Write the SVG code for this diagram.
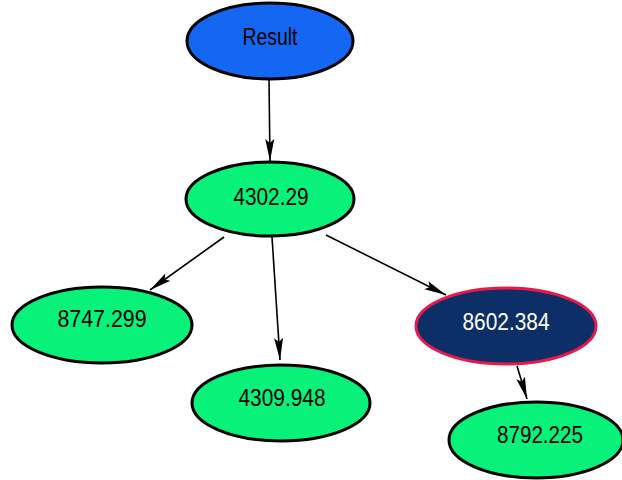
<svg xmlns="http://www.w3.org/2000/svg" width="622" height="480" viewBox="0 0 622 480">
  <style>
    .node ellipse { stroke: #000; stroke-width: 3; }
    .leaf { fill: #08f27a; }
    .root { fill: #1467f2; }
    .sel { fill: #0b2f66; stroke: #e8184a !important; }
    .label { font-family: "Liberation Sans", Arial, sans-serif; font-size: 23px; text-anchor: middle; fill: #000; }
    .label.inv { fill: #fff; }
    .edge { stroke: #000; stroke-width: 1.6; fill: none; marker-end: url(#arrow); }
  </style>
  <defs>
    <marker id="arrow" markerUnits="userSpaceOnUse" markerWidth="24" markerHeight="12" refX="22" refY="5" orient="auto">
      <path d="M0,0.5 L22,5 L0,9.5 L4,5 z" fill="#000"/>
    </marker>
  </defs>
  <rect width="622" height="480" fill="#fff"/>

  <g id="edges">
    <line class="edge" x1="269" y1="80" x2="270" y2="161" stroke-width="2"/>
    <line class="edge" x1="224" y1="237" x2="150" y2="290"/>
    <line class="edge" x1="272" y1="237" x2="280" y2="360"/>
    <line class="edge" x1="326" y1="235" x2="446" y2="295"/>
    <line class="edge" x1="517" y1="366" x2="527" y2="399"/>
  </g>

  <g id="n-result" class="node">
    <ellipse class="root" cx="270" cy="41" rx="83" ry="38"/>
    <text class="label" x="270" y="45" textLength="55" lengthAdjust="spacingAndGlyphs">Result</text>
  </g>
  <g id="n-4302" class="node">
    <ellipse class="leaf" cx="270" cy="199" rx="84" ry="37"/>
    <text class="label" x="271" y="205" textLength="75" lengthAdjust="spacingAndGlyphs">4302.29</text>
  </g>
  <g id="n-8747" class="node">
    <ellipse class="leaf" cx="102" cy="325" rx="90" ry="38"/>
    <text class="label" x="102" y="327" textLength="89" lengthAdjust="spacingAndGlyphs">8747.299</text>
  </g>
  <g id="n-4309" class="node">
    <ellipse class="leaf" cx="281" cy="403" rx="89" ry="38"/>
    <text class="label" x="282" y="406" textLength="87" lengthAdjust="spacingAndGlyphs">4309.948</text>
  </g>
  <g id="n-8602" class="node">
    <ellipse class="sel" cx="506" cy="326" rx="90" ry="38"/>
    <text class="label inv" x="506" y="330" textLength="87" lengthAdjust="spacingAndGlyphs">8602.384</text>
  </g>
  <g id="n-8792" class="node">
    <ellipse class="leaf" cx="536" cy="440" rx="87" ry="38"/>
    <text class="label" x="540" y="443" textLength="86" lengthAdjust="spacingAndGlyphs">8792.225</text>
  </g>
</svg>
